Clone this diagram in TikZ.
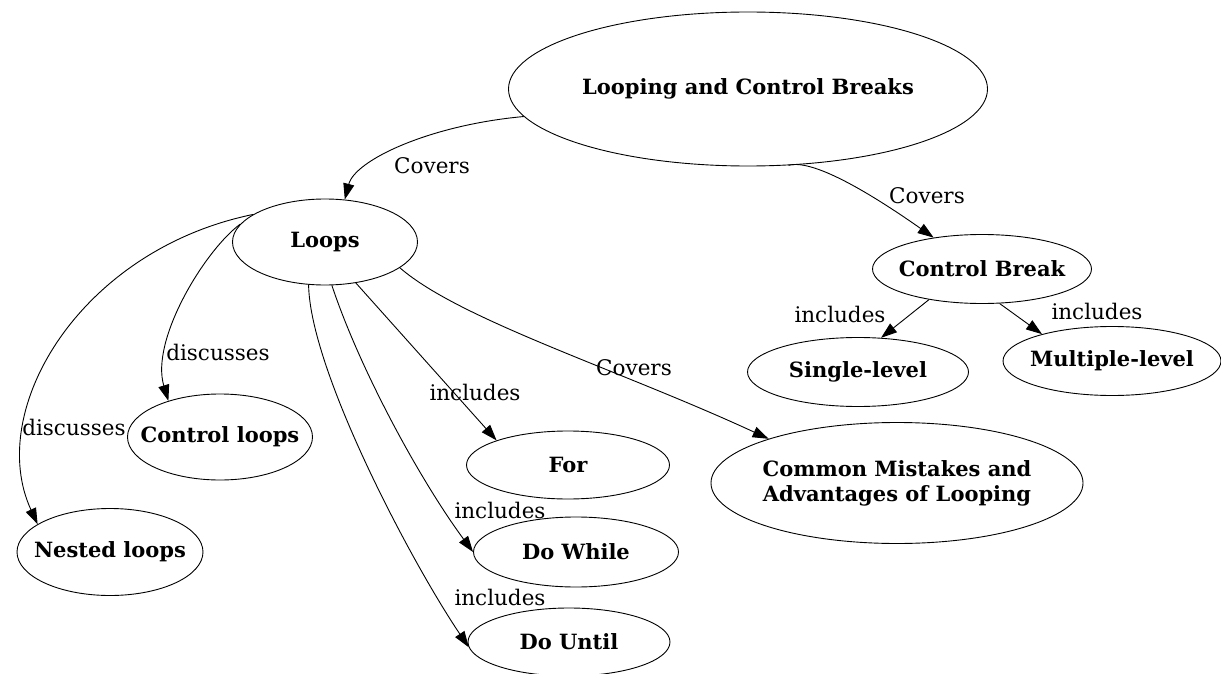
\documentclass[tikz,border=0pt]{standalone}
\usepackage{fontspec}
\setmainfont{DejaVu Serif}
\usetikzlibrary{shapes.geometric,arrows.meta}
\begin{document}
\begin{tikzpicture}[x=1pt,y=-1pt,
  bubble/.style 2 args={draw, ellipse, inner sep=0pt, minimum width=#1, minimum height=#2, line width=0.9pt},
  title/.style={font=\fontsize{21}{25}\selectfont\bfseries, align=center, inner sep=0pt},
  rel/.style={font=\fontsize{21.5}{25}\selectfont, anchor=base, inner sep=0pt},
  link/.style={-{Triangle[length=16pt,width=11pt]}, line width=0.9pt},
]
\useasboundingbox (0,0) rectangle (1221,674);

% concept bubbles
\node[bubble={479pt}{154pt}, label={[title]center:Looping and Control Breaks}] (top) at (748,89) {};
\node[bubble={185pt}{86pt}, label={[title]center:Loops}] (loops) at (325,242) {};
\node[bubble={219pt}{69pt}, label={[title]center:Control Break}] (cb) at (982,269) {};
\node[bubble={221pt}{69pt}, label={[title]center:Single-level}] (single) at (858,372) {};
\node[bubble={218pt}{69pt}, label={[title]center:Multiple-level}] (multi) at (1112,361) {};
\node[bubble={185pt}{86pt}, label={[title]center:Control loops}] (ctrl) at (220,437) {};
\node[bubble={186pt}{87pt}, label={[title]center:Nested loops}] (nested) at (110,552) {};
\node[bubble={203pt}{68pt}, label={[title]center:For}] (for) at (568,465) {};
\node[bubble={205pt}{70pt}, label={[title]center:Do While}] (dowhile) at (576,552) {};
\node[bubble={202pt}{68pt}, label={[title]center:Do Until}] (dountil) at (569,642) {};
\node[bubble={372pt}{121pt}, label={[title]center:Common Mistakes and\\Advantages of Looping}] (common) at (897,483) {};

% relations
\draw[link] (top.187) .. controls (430,125) and (355,160) .. (loops.65);
\draw[link] (top.298) .. controls (815,158) and (880,200) .. (cb.147);
\draw[link] (cb.210) -- (single.56);
\draw[link] (cb.297) -- (multi.159);
\draw[link] (loops.168) .. controls (205,250) and (150,340) .. (ctrl.145);
\draw[link] (loops.159) .. controls (80,250) and (-15,410) .. (nested.159);
\draw[link] (loops.307) -- (for.161);
\draw[link] (loops.279) .. controls (360,370) and (420,480) .. (dowhile.180);
\draw[link] (loops.249) .. controls (310,370) and (410,560) .. (dountil.183);
\draw[link] (loops.341) .. controls (460,320) and (620,370) .. (common.161);

% relation labels
\node[rel] (l1) at (432,173) {Covers};
\node[rel] (l2) at (927,203) {Covers};
\node[rel] (l3) at (840,322) {includes};
\node[rel] (l4) at (1097,319) {includes};
\node[rel] (l5) at (218,360) {discusses};
\node[rel] (l6) at (74,435) {discusses};
\node[rel] (l7) at (475,400) {includes};
\node[rel] (l8) at (500,518) {includes};
\node[rel] (l9) at (500,605) {includes};
\node[rel] (l10) at (634,375) {Covers};
\end{tikzpicture}
\end{document}
